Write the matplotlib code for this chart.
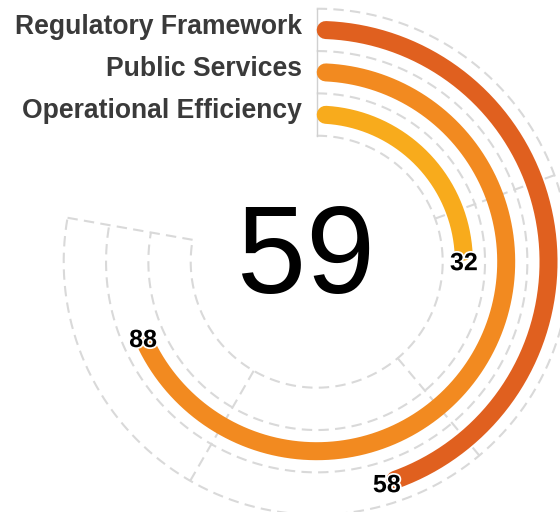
import numpy as np
import matplotlib
matplotlib.use("Agg")
import matplotlib.pyplot as plt
import matplotlib.patheffects as pe

# ---- data ----
categories = ["Regulatory Framework", "Public Services", "Operational Efficiency"]
values = [58, 88, 32]
colors = ["#E0601F", "#F28A20", "#F8AB1C"]
center_value = 59
axis_max = 100
axis_ticks = [0, 25, 50, 75, 100]

# ---- layout (pixels) ----
W, H, DPI = 560, 512, 100
cx, cy = 316.7, 261.7          # polar centre (px from top-left)
r_out = 253.0
r_in = 126.0
sweep_deg = 280.0
PT = 72.0 / DPI                # points per pixel

fig = plt.figure(figsize=(W / DPI, H / DPI), dpi=DPI)
ax = fig.add_axes([(cx - r_out) / W, (H - cy - r_out) / H, 2 * r_out / W, 2 * r_out / H],
                  projection="polar")
ax.set_theta_zero_location("N")
ax.set_theta_direction(-1)
ax.set_ylim(0, r_out)
ax.set_axis_off()

def to_theta(v):
    return np.deg2rad(v / axis_max * sweep_deg)

n = len(categories)
band = (r_out - r_in) / n
grid_col = "#d9d9d9"
dash = (0, (5.0, 3.0))

# rings
th_full = np.linspace(0, to_theta(axis_max), 600)
for k in range(n + 1):
    r = r_in + k * band
    ax.plot(th_full, np.full_like(th_full, r), color=grid_col, lw=1.5,
            linestyle=dash, clip_on=False, zorder=1)

# radial split lines
for t in axis_ticks:
    th = to_theta(t)
    if t == 0:
        ax.plot([th, th], [r_in, r_out], color="#d0d0d0", lw=1.0, clip_on=False, zorder=1)
    else:
        ax.plot([th, th], [r_in, r_out], color=grid_col, lw=1.5, linestyle=dash,
                clip_on=False, zorder=1)

# bars (rounded caps kept inside the angular extent)
bar_w_px = 18.0
for i, (name, v, c) in enumerate(zip(categories, values, colors)):
    r = r_out - (i + 0.5) * band
    cap = (bar_w_px / 2) / r
    th = np.linspace(cap, to_theta(v) - cap, 400)
    ax.plot(th, np.full_like(th, r), color=c, lw=bar_w_px * PT,
            solid_capstyle="round", clip_on=False, zorder=3)
    # value label at the bar end
    ax.text(to_theta(v), r, str(v), ha="center", va="center_baseline",
            fontsize=25 * PT, fontweight="bold", color="black",
            family="Liberation Sans", zorder=5, clip_on=False,
            path_effects=[pe.withStroke(linewidth=2.5, foreground="white")])
    # category label left of the start
    ax.annotate(name, xy=(0, r), xytext=(-15 * PT, -3.7 * PT), textcoords="offset points",
                ha="right", va="baseline", fontsize=26.5 * PT, fontweight="bold",
                color="#3a3a3a", family="Liberation Sans", annotation_clip=False)

# centre number
ax.annotate(str(center_value), xy=(0, 0), xytext=(-10.5 * PT, -31 * PT),
            textcoords="offset points", ha="center", va="baseline",
            fontsize=124 * PT, color="black", family="Liberation Sans",
            annotation_clip=False)

fig.savefig("out.png", dpi=DPI)
